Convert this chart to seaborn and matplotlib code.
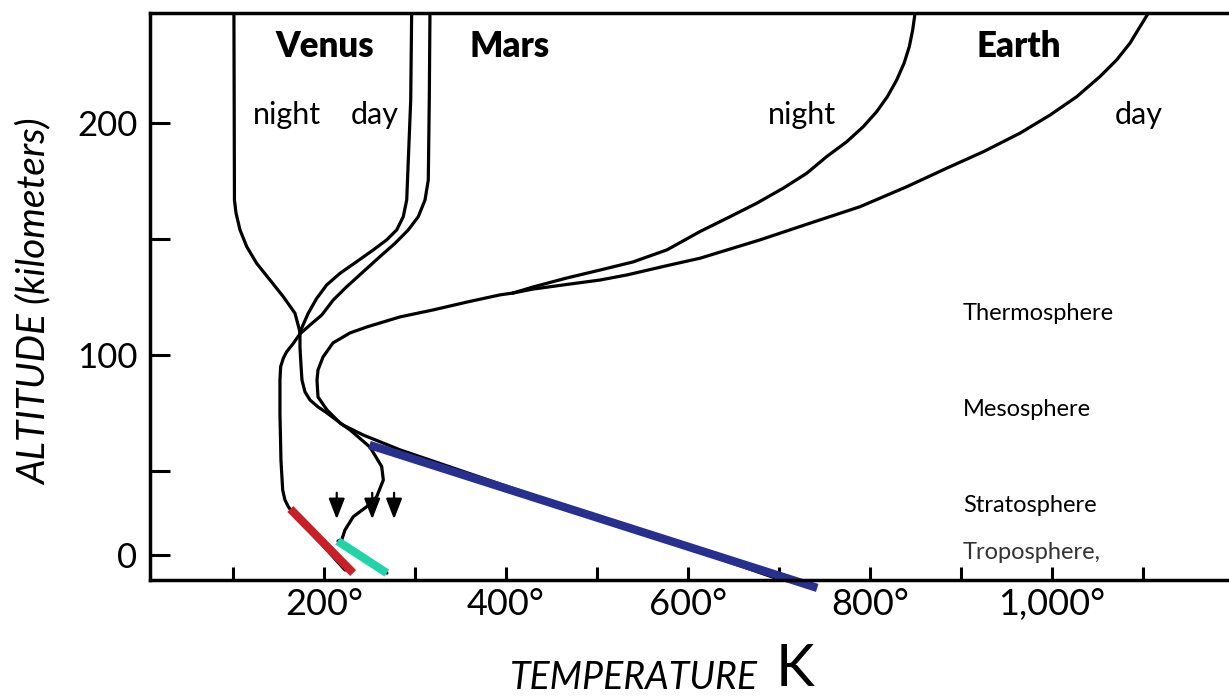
#!/usr/bin/env python3

# import packages
import seaborn as sns
import matplotlib.pyplot as plt

# temperature (K) / altitude (km) profiles
venus_night_t = [101, 101.6, 103.3, 107.7, 115.1, 126.0, 140.7, 155.3, 168.1, 173.6]
venus_night_km = [250, 166.8, 161.2, 153.9, 146.7, 139.5, 132.3, 125.1, 118.0, 109.9]
venus_day_t = [296.4, 295.3, 290.9, 287.1, 279.9, 268.9, 254.2, 235.9, 217.6, 203.0,
               192.0, 182.7, 173.6]
venus_day_km = [250, 209.9, 166.8, 159.6, 153.9, 149.6, 145.3, 140.2, 135.2, 130.2,
                124.4, 118.0, 109.9]
venus_low_t = [173.6, 173.6, 174.7, 175.8, 179.1, 184.6, 193.4, 203.3, 220.9, 243.1,
               283.5, 393.4, 503.3, 613.2, 695.6]
venus_low_km = [109.9, 103.4, 95.7, 89.2, 84.1, 80.6, 77.6, 75.0, 69.8, 65.5,
                59.1, 44.4, 29.7, 15.1, 3.9]

mars_t = [316.5, 315.7, 314.6, 311.0, 303.6, 292.6, 278.0, 261.5, 243.2, 224.9,
          210.2, 197.5, 184.6, 173.6, 166.3, 159.0, 155.3, 152.4, 151.6, 151.6,
          152.7, 154.6, 157.1, 160.8, 162.6, 223.1]
mars_km = [250, 209.9, 175.4, 166.8, 159.6, 153.9, 148.1, 142.4, 135.9, 129.4,
           123.7, 117.2, 112.9, 109.1, 105.0, 101.4, 98.6, 95.0, 89.2, 74.9,
           54.7, 41.8, 37.5, 34.6, 33.6, 7.3]

earth_night_t = [852, 849.5, 846.9, 843.2, 837.4, 829.3, 819.0, 807.4, 792.6, 774.4,
                 752.4, 730.4, 704.7, 675.5, 646.2, 613.2, 576.9, 539.6, 503.3,
                 467.0, 429.7, 407.7]
earth_night_km = [250, 247.3, 240.1, 232.9, 225.7, 218.5, 211.3, 204.9, 198.4, 191.9,
                  185.5, 178.3, 171.9, 165.4, 159.6, 153.2, 145.3, 140.1, 136.6,
                  133.2, 129.3, 126.7]
earth_day_t = [1110, 1105.8, 1096.7, 1085.7, 1071.1, 1052.7, 1027.1, 997.8, 964.8,
               924.5, 884.3, 840.3, 789.0, 734.1, 679.1, 613.2, 576.9, 533.0, 503.3,
               467.0, 429.7, 407.7]
earth_day_km = [250, 247.3, 241.5, 234.4, 227.2, 220.0, 211.3, 203.4, 195.6, 187.6,
                180.5, 172.5, 163.9, 156.8, 149.6, 141.7, 138.5, 134.5, 132.3, 130.4,
                128.4, 126.7]
earth_low_t = [407.7, 393.4, 357.1, 319.8, 283.5, 247.3, 228.6, 209.9, 198.9, 193.4,
               192.3, 193.4, 203.3, 217.6, 228.6, 250.5, 263.4, 265.2, 257.9, 246.9,
               232.2, 223.1, 219.5, 215.4, 269.2]
earth_low_km = [126.7, 125.9, 122.8, 119.4, 116.4, 112.1, 109.5, 105.2, 99.1, 93.5,
                89.2, 81.9, 76.3, 70.7, 67.7, 60.3, 51.9, 46.1, 38.9, 34.6,
                30.3, 24.6, 20.3, 19.8, 6.0]

# coloured lapse-rate overlays
red_t, red_km = [163, 232], [33.6, 6.0]
teal_t, teal_km = [215, 269], [19.8, 6.0]
blue_t, blue_km = [250, 742], [61.2, -0.4]

# downward arrows
arrow_t = [214, 253, 277]
arrow_from_km, arrow_to_km = 41.8, 28.0

# tick labels
xticks = list(range(100, 1200, 100))
xlabels = ['', '200°', '', '400°', '', '600°', '', '800°', '', '1,000°', '']
yticks = [13.8, 50, 100, 150, 200]
ylabels = ['0', '', '100', '', '200']

# text labels (temperature, altitude)
planet_labels = [('Venus', 201, 232.8), ('Mars', 404, 232.8), ('Earth', 964, 232.8)]
time_labels = [('night', 159, 203.4), ('day', 256, 203.4),
               ('night', 725, 203.4), ('day', 1095, 203.4)]
layer_labels = [('Thermosphere', 118.0), ('Mesosphere', 76.3),
                ('Stratosphere', 35.3), ('Troposphere,', 14.7)]
layer_t = 902

sns.set_style('white')
plt.rcParams['font.family'] = ['Lato', 'DejaVu Sans']
plt.rcParams['text.color'] = 'black'
plt.rcParams['xtick.color'] = 'black'
plt.rcParams['ytick.color'] = 'black'

fig = plt.figure(figsize=(12.29, 6.96), dpi=100)
ax = fig.add_axes([150 / 1229, 116 / 696, 1079 / 1229, 567 / 696])

black_lines = [(venus_night_t, venus_night_km), (venus_day_t, venus_day_km),
               (venus_low_t, venus_low_km), (mars_t, mars_km),
               (earth_night_t, earth_night_km), (earth_day_t, earth_day_km),
               (earth_low_t, earth_low_km)]
for t, km in black_lines:
    sns.lineplot(x=t, y=km, sort=False, estimator=None, color='black',
                 lw=2.3, ax=ax)

for t, km, c in [(red_t, red_km, '#c91f26'), (teal_t, teal_km, '#1fd4a7'),
                 (blue_t, blue_km, '#28308f')]:
    sns.lineplot(x=t, y=km, sort=False, estimator=None, color=c, lw=6.0,
                 solid_capstyle='butt', clip_on=False, ax=ax)

for t in arrow_t:
    ax.annotate('', xy=(t, arrow_to_km), xytext=(t, arrow_from_km),
                arrowprops=dict(arrowstyle='-|>,head_length=0.9,head_width=0.35',
                                mutation_scale=14, color='black', lw=1.6))

ax.set_xlim(8.8, 1194.5)
ax.set_ylim(3.0, 247.4)

ax.set_xticks(xticks)
ax.set_xticklabels(xlabels)
ax.set_yticks(yticks)
ax.set_yticklabels(ylabels)
ax.yaxis.get_major_ticks()[0].tick1line.set_visible(False)
ax.tick_params(axis='x', direction='in', length=9.5, width=2.2, labelsize=26,
               pad=6, bottom=True)
ax.tick_params(axis='y', direction='in', length=14.5, width=2.2, labelsize=25,
               pad=9, left=True)
ax.set_xlabel('')
ax.set_ylabel('')

for side in ['left', 'bottom', 'top']:
    ax.spines[side].set_linewidth(2.5)
    ax.spines[side].set_color('black')
ax.spines['right'].set_visible(False)

for name, t, km in planet_labels:
    ax.text(t, km, name, ha='center', va='center', fontsize=25, weight='heavy')
for name, t, km in time_labels:
    ax.text(t, km, name, ha='center', va='center', fontsize=22)
for name, km in layer_labels:
    ax.text(layer_t, km, name, ha='left', va='center', fontsize=17,
            color='#333333' if name.startswith('Tropo') else 'black')

fig.text(35 / 1229, 1 - 302 / 696, 'ALTITUDE (kilometers)', rotation=90,
         ha='center', va='center', fontsize=28, style='italic')
fig.text(758 / 1229, 0.0, 'TEMPERATURE', ha='right', va='bottom',
         fontsize=27, style='italic')
fig.text(776 / 1229, 0.0, 'K', ha='left', va='bottom', fontsize=42)

plt.savefig('out.png', dpi=100, facecolor='white')
